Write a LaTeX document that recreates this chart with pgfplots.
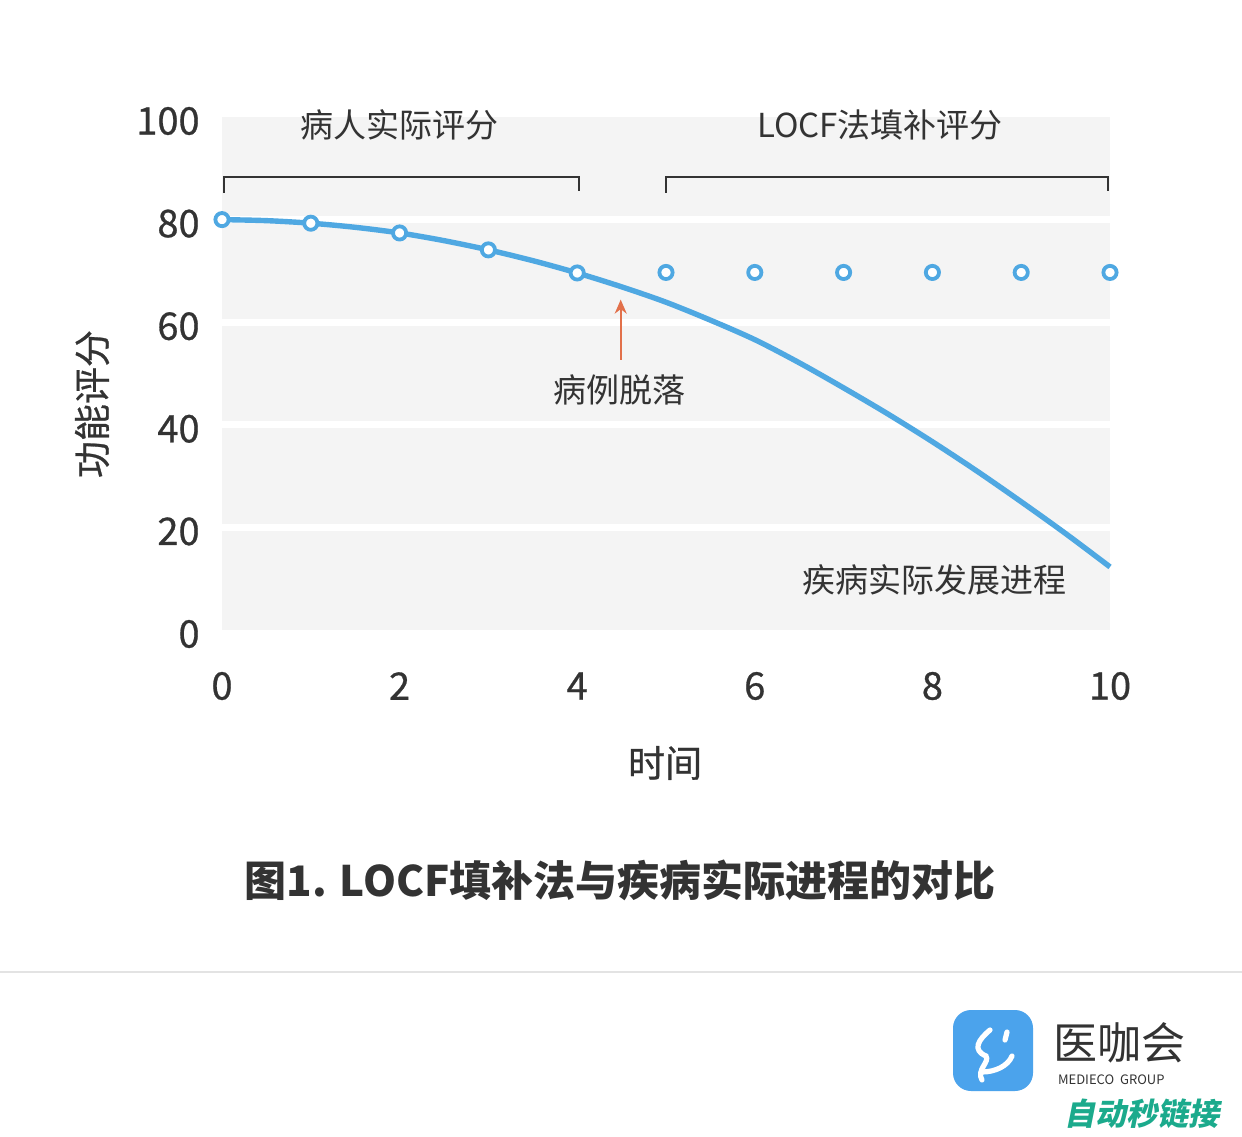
\documentclass[border=0pt]{standalone}
\usepackage{fontspec}
\setmainfont{Noto Sans CJK SC}
\newfontfamily\medfont[FakeBold=0.7]{Noto Sans CJK SC}
\usepackage{pgfplots}
\pgfplotsset{compat=1.18}
\usetikzlibrary{arrows.meta}

\definecolor{bggray}{HTML}{F4F4F4}
\definecolor{txt}{HTML}{333333}
\definecolor{curveblue}{HTML}{4FA8E2}
\definecolor{arroworange}{HTML}{E2704A}
\definecolor{sepgray}{HTML}{E3E3E3}
\definecolor{logoblue}{HTML}{4BA3EC}
\definecolor{teal}{HTML}{1BAA8C}

\newcommand{\fs}[1]{\fontsize{#1}{#1}\selectfont}

\begin{document}
\begin{tikzpicture}
\path[use as bounding box, fill=white] (0,0) rectangle (621pt,-568pt);

\begin{axis}[
    at={(111pt,-315pt)}, anchor=south west,
    scale only axis, width=444pt, height=256.5pt,
    xmin=0, xmax=10, ymin=0, ymax=100,
    clip=false,
    axis background/.style={fill=bggray},
    axis line style={draw=none},
    major tick length=0pt, minor tick length=0pt,
    xtick={0,2,...,10}, ytick={0,20,...,100},
    minor ytick={20,40,60,80},
    yminorgrids,
    minor grid style={white, line width=3.5pt},
    /pgf/number format/assume math mode=true,
    tick label style={font=\medfont\fs{19}, text=txt},
    xticklabel style={anchor=center, yshift=-28pt},
    yticklabel style={anchor=east, inner sep=0pt, xshift=-11pt, yshift=-2pt},
    xlabel={时间}, ylabel={功能评分},
    label style={font=\medfont\fs{18.5}, text=txt},
    xlabel style={at={(axis description cs:0.499,-0.2593)}, anchor=center},
    ylabel style={at={(axis description cs:-0.1464,0.4405)}, anchor=center},
  ]

  % actual disease course
  \addplot[smooth, color=curveblue, line width=2.7pt] coordinates {
      (0,80.0) (0.5,79.8) (1,79.3) (1.5,78.5) (2,77.4) (2.5,75.9)
      (3,74.1) (3.5,72.0) (4,69.6) (4.5,66.9) (5,63.9) (5.5,60.4)
      (6,56.6) (6.5,52.1) (7,47.2) (7.5,42.1) (8,36.7) (8.5,31.0)
      (9,25.0) (9.5,18.8) (10,12.3)
  };

  % observed scores
  \addplot[only marks, mark=*, mark size=3.3pt,
           mark options={draw=curveblue, fill=white, line width=1.9pt}] coordinates {
      (0,80) (1,79.3) (2,77.4) (3,74.1) (4,69.6)
  };

  % LOCF imputed scores
  \addplot[only marks, mark=*, mark size=3.3pt,
           mark options={draw=curveblue, fill=white, line width=1.9pt}] coordinates {
      (5,69.7) (6,69.7) (7,69.7) (8,69.7) (9,69.7) (10,69.7)
  };

  % brackets and notes
  \draw[txt, line width=1pt] (axis cs:0.02,85.2) -- (axis cs:0.02,88.4)
       -- (axis cs:4.02,88.4) -- (axis cs:4.02,85.5);
  \draw[txt, line width=1pt] (axis cs:5.0,85.2) -- (axis cs:5.0,88.4)
       -- (axis cs:9.98,88.4) -- (axis cs:9.98,85.5);
  \node[font=\fs{16.5}, text=txt] at (axis cs:2.0,98.5) {病人实际评分};
  \node[font=\fs{16.5}, text=txt] at (axis cs:7.41,98.5) {LOCF法填补评分};
  \draw[arroworange, line width=1pt, -{Stealth[length=7pt,width=6pt]}]
       (axis cs:4.49,52.7) -- (axis cs:4.49,64.4);
  \node[font=\fs{16.5}, text=txt] at (axis cs:4.48,46.8) {病例脱落};
  \node[font=\fs{16.5}, text=txt] at (axis cs:8.02,9.8) {疾病实际发展进程};
\end{axis}

\begin{scope}[x=0.5pt, y=-0.5pt]
  \node[font=\fs{21}\bfseries, text=txt] at (620,880) {图1. LOCF填补法与疾病实际进程的对比};
  \draw[sepgray, line width=1pt] (0,972) -- (1242,972);
  % logo
  \fill[logoblue, rounded corners=9pt] (953,1010) rectangle (1033,1091);
  \draw[white, line width=2.6pt, line cap=round]
       (990,1030) .. controls (978,1040) and (972,1050) .. (986,1056)
       .. controls (990,1062) and (976,1070) .. (982,1080);
  \draw[white, line width=2.6pt, line cap=round]
       (982,1072) .. controls (995,1072) and (1008,1066) .. (1012,1056);
  \draw[white, line width=2.6pt, line cap=round] (1007,1032) -- (1005,1040);
  \node[font=\fs{22}, text=txt, anchor=west] at (1046,1043) {医咖会};
  \node[font=\fs{6.5}, text=txt, anchor=west] at (1051,1080) {MEDIECO\ \ GROUP};
  \node[font=\fs{15.5}\bfseries, text=teal, anchor=west, xslant=0.2] at (1060,1114) {自动秒链接};
\end{scope}
\end{tikzpicture}
\end{document}
